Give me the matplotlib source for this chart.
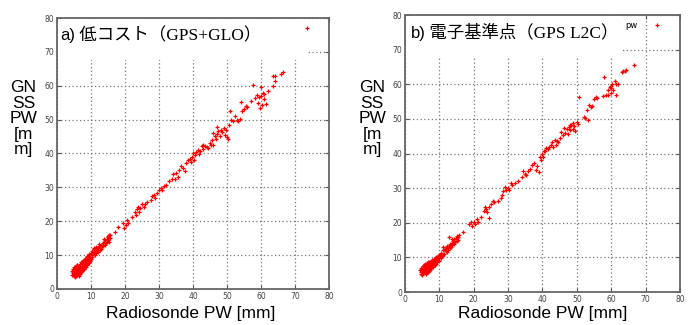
import numpy as np
import matplotlib.pyplot as plt
from matplotlib.patches import Rectangle

# (radiosonde PW, GNSS PW) pairs
low_cost_xy = [
    (4.4, 4.2), (4.5, 5.4), (4.6, 4.7), (4.8, 6.0), (4.9, 3.9), (5.0, 5.0), (5.1, 6.6), (5.2, 4.4),
    (5.3, 5.8), (5.4, 3.6), (5.5, 6.9), (5.6, 4.9), (5.7, 5.6), (5.8, 4.0), (5.9, 6.3), (6.0, 7.2),
    (6.1, 4.6), (6.2, 5.3), (6.3, 6.0), (6.4, 3.9), (6.5, 6.8), (6.6, 5.0), (6.7, 7.5), (6.8, 5.7),
    (6.9, 4.5), (7.0, 6.4), (7.1, 7.9), (7.2, 5.2), (7.3, 6.9), (7.4, 6.0), (7.5, 8.2), (7.6, 5.5),
    (7.7, 7.3), (7.8, 6.6), (7.9, 8.5), (8.0, 6.0), (8.1, 7.8), (8.2, 7.0), (8.3, 8.9), (8.4, 6.6),
    (8.5, 8.2), (8.6, 7.4), (8.7, 9.3), (8.8, 7.0), (8.9, 8.6), (9.0, 7.8), (9.1, 9.6), (9.2, 8.2),
    (9.3, 9.0), (9.4, 7.6), (9.5, 10.2), (9.6, 8.6), (9.7, 9.5), (9.8, 8.2), (9.9, 10.5), (10.0, 9.0),
    (5.0, 4.4), (5.3, 6.2), (5.6, 3.8), (6.0, 5.4), (6.3, 4.8), (6.6, 6.4), (7.0, 5.0), (7.3, 7.6),
    (7.6, 6.2), (8.0, 8.6), (8.3, 7.3), (8.6, 8.6), (9.0, 9.2), (9.3, 8.6), (4.7, 5.0), (5.8, 7.0),
    (7.8, 7.0), (6.5, 6.1), (8.8, 9.8),
    (10.2, 10.1), (10.4, 9.4), (10.6, 11.0), (10.8, 10.2), (11.0, 11.7), (11.1, 9.9), (11.3, 11.0),
    (11.5, 12.4), (11.6, 10.5), (11.8, 11.4), (12.0, 12.2), (12.1, 10.8), (12.3, 12.6), (12.5, 11.5),
    (12.7, 12.2), (12.9, 13.1), (13.0, 11.8), (13.2, 12.7), (13.4, 13.6), (13.6, 12.8), (13.8, 13.9),
    (14.0, 13.1), (14.2, 14.4), (14.4, 13.5), (14.6, 14.9), (14.8, 13.9), (15.0, 15.3), (15.1, 14.5),
    (15.3, 15.8), (15.4, 13.8), (15.5, 15.0), (15.6, 16.0), (10.9, 12.0), (12.4, 13.4), (13.8, 14.7),
    (11.4, 11.7), (14.9, 15.7), (10.3, 11.3),
    (17.0, 16.8), (18.0, 18.2), (19.5, 19.4), (19.6, 18.1), (20.2, 19.0), (20.5, 20.3), (21.0, 19.4),
    (22.0, 21.2), (22.8, 22.8), (23.2, 21.9), (23.5, 23.5), (23.8, 24.2), (24.0, 22.6), (24.5, 23.8),
    (25.0, 25.0), (25.5, 24.3), (26.0, 25.2), (26.5, 25.8), (27.5, 26.2), (28.0, 27.5), (28.4, 27.8),
    (28.8, 26.9), (29.5, 28.2), (30.0, 29.3), (30.5, 29.8), (31.0, 29.2), (31.5, 30.4), (32.0, 30.7),
    (33.0, 31.9), (33.8, 32.6), (34.2, 33.8), (34.6, 32.4), (35.0, 34.3), (35.6, 33.2), (36.0, 35.0),
    (36.5, 36.2), (37.0, 35.6), (37.5, 34.9), (38.0, 37.2), (38.5, 38.0), (39.0, 38.4), (39.4, 37.6),
    (39.8, 39.0), (40.2, 38.2), (40.5, 39.6), (41.0, 40.4), (41.4, 41.0), (41.8, 39.8), (42.2, 40.8),
    (42.6, 42.1), (43.0, 41.4), (43.5, 42.3), (44.0, 42.0), (44.5, 41.5), (45.0, 43.2), (45.5, 44.0),
    (45.8, 46.0), (46.0, 42.4), (46.4, 45.2), (46.8, 44.3), (47.0, 45.8), (47.4, 46.5), (47.8, 45.1),
    (48.2, 47.0), (48.6, 46.2), (49.0, 47.4), (49.3, 45.6), (49.8, 46.8), (50.0, 45.0), (50.2, 44.4),
    (50.5, 48.4), (50.8, 52.5), (51.2, 50.0), (51.8, 49.5), (52.3, 51.0), (52.8, 49.9), (53.3, 49.6),
    (53.8, 50.2), (54.0, 55.2), (54.5, 52.4), (55.0, 53.2), (55.5, 54.0), (56.0, 53.6), (57.0, 55.6),
    (57.6, 60.3), (58.2, 56.4), (58.8, 57.2), (59.0, 55.0), (59.4, 56.6), (59.6, 53.4), (60.0, 57.1),
    (60.2, 54.2), (60.5, 58.0), (61.0, 56.2), (61.4, 54.5), (61.0, 57.6), (60.0, 59.6), (62.0, 58.5),
    (63.4, 62.8), (63.5, 60.0), (64.0, 61.5), (64.2, 63.0), (66.0, 63.6), (66.6, 64.0), (43.0, 42.5),
    (47.2, 47.8), (40.0, 40.0), (45.3, 42.6),
]

geonet_xy = [
    (4.5, 6.3), (4.6, 5.2), (4.7, 7.0), (4.8, 5.8), (4.9, 6.6), (5.0, 4.9), (5.1, 7.4), (5.2, 6.1),
    (5.3, 5.5), (5.4, 7.8), (5.5, 6.7), (5.6, 5.7), (5.7, 7.2), (5.8, 6.3), (5.9, 8.1), (6.0, 5.4),
    (6.1, 6.9), (6.2, 7.7), (6.3, 6.0), (6.4, 8.3), (6.5, 6.6), (6.6, 7.4), (6.7, 5.8), (6.8, 8.0),
    (6.9, 6.8), (7.0, 8.6), (7.1, 7.1), (7.2, 6.3), (7.3, 8.2), (7.4, 7.5), (7.5, 8.9), (7.6, 6.8),
    (7.7, 8.0), (7.8, 7.3), (7.9, 9.2), (8.0, 7.7), (8.1, 8.6), (8.2, 7.2), (8.3, 9.4), (8.4, 8.2),
    (8.5, 9.0), (8.6, 7.8), (8.7, 9.7), (8.8, 8.6), (8.9, 9.3), (9.0, 8.2), (9.1, 10.0), (9.2, 8.9),
    (9.3, 9.6), (9.4, 8.6), (9.5, 10.4), (9.6, 9.3), (9.7, 10.0), (9.8, 9.0), (9.9, 10.7), (10.0, 9.8),
    (5.2, 7.0), (5.6, 6.4), (6.0, 7.5), (6.4, 6.9), (6.8, 7.4), (7.2, 8.3), (7.6, 7.8), (8.0, 8.4),
    (8.4, 9.1), (8.8, 9.2), (5.0, 5.8), (6.2, 5.3), (7.0, 6.0), (5.4, 6.9), (6.6, 8.7), (9.2, 9.8),
    (10.2, 10.8), (10.4, 9.8), (10.6, 11.4), (10.8, 10.4), (11.0, 12.0), (11.2, 13.0), (11.4, 11.1),
    (11.6, 12.4), (11.8, 11.8), (12.0, 12.6), (12.2, 11.5), (12.4, 12.9), (12.6, 12.2), (12.8, 13.4),
    (13.0, 12.6), (13.2, 13.8), (13.4, 13.0), (13.6, 14.2), (13.8, 13.5), (14.0, 14.6), (14.2, 14.0),
    (14.4, 15.2), (14.6, 14.4), (14.8, 15.6), (15.0, 14.8), (15.0, 16.2), (15.2, 15.5), (15.4, 16.0),
    (15.5, 15.0), (15.6, 16.4), (12.8, 15.8), (13.8, 15.2), (11.0, 10.6), (12.3, 13.3),
    (17.0, 17.4), (18.7, 19.5), (19.2, 20.1), (19.6, 19.0), (20.0, 20.3), (20.4, 19.6), (21.0, 21.0),
    (21.3, 20.1), (22.0, 21.8), (23.0, 23.3), (23.3, 24.6), (23.7, 24.1), (24.0, 23.0), (24.3, 24.5),
    (24.5, 21.3), (25.0, 25.5), (25.5, 26.3), (26.0, 26.0), (27.0, 26.2), (27.8, 27.2), (28.3, 28.0),
    (28.6, 29.2), (29.0, 30.3), (29.4, 29.5), (30.0, 30.1), (30.4, 29.6), (30.8, 31.4), (31.2, 30.8),
    (32.0, 31.5), (33.0, 32.0), (34.0, 33.2), (34.3, 35.0), (34.8, 34.2), (35.3, 33.7), (35.8, 35.0),
    (36.4, 35.6), (37.0, 36.8), (37.5, 37.4), (38.0, 35.2), (38.3, 36.3), (39.0, 34.6), (39.2, 39.0),
    (39.6, 38.2), (40.0, 39.9), (40.2, 39.0), (40.6, 40.8), (41.0, 41.5), (41.5, 41.2), (42.0, 41.8),
    (42.4, 42.6), (42.8, 43.2), (43.2, 42.0), (43.6, 44.0), (44.0, 42.6), (44.5, 43.4), (45.0, 44.6),
    (45.5, 46.2), (46.0, 45.4), (46.3, 47.4), (46.6, 46.0), (47.0, 47.0), (47.3, 45.6), (47.7, 47.8),
    (48.0, 46.8), (48.4, 48.2), (48.8, 47.2), (49.2, 48.0), (49.5, 46.4), (50.0, 49.0), (50.3, 48.6),
    (50.6, 56.2), (52.0, 50.6), (52.5, 50.4), (53.3, 49.8), (53.0, 52.6), (53.6, 54.0), (54.0, 53.3),
    (54.4, 53.8), (55.0, 55.6), (55.6, 56.2), (56.0, 56.0), (57.5, 56.6), (57.8, 62.0), (58.5, 57.0),
    (59.0, 58.4), (59.2, 56.8), (59.5, 59.2), (59.8, 57.6), (60.0, 58.8), (60.2, 60.0), (60.6, 58.2),
    (61.0, 60.8), (61.3, 56.8), (61.5, 60.2), (62.0, 60.2), (63.0, 63.5), (63.3, 63.8), (64.0, 63.8),
    (64.2, 64.0), (66.5, 65.6), (40.3, 40.8), (44.2, 43.5), (48.0, 48.2), (49.0, 48.8), (60.0, 59.5),
]

panel_titles = ['a)', 'b)']
panel_subtitles = ['低コスト（GPS+GLO）', '電子基準点（GPS L2C）']
legend_labels = ['', 'pw']
ticks = [0, 10, 20, 30, 40, 50, 60, 70, 80]

fig = plt.figure(figsize=(6.93, 3.25), dpi=100)
ax_a = fig.add_axes([0.0823, 0.1108, 0.3924, 0.8338])
ax_b = fig.add_axes([0.5844, 0.1015, 0.3968, 0.8523])

# white areas that hide the grid behind the titles
title_boxes = [(73.5, 67.7), (63.0, 67.5)]
ylabel_x = [0.034, 0.537]
xlabel_x = [0.2756, 0.783]

for i, (ax, pts) in enumerate(zip([ax_a, ax_b], [low_cost_xy, geonet_xy])):
    pts = np.array(pts)
    ax.set_xlim(0, 80)
    ax.set_ylim(0, 80)
    ax.set_xticks(ticks)
    ax.set_yticks(ticks)
    ax.tick_params(direction='in', length=3, width=0.8, labelsize=5.5,
                   labelcolor='#444444', color='#555555', top=True, right=True, pad=2)
    for s in ax.spines.values():
        s.set_color('#666666')
        s.set_linewidth(1.3)
    ax.grid(True, linestyle=(0, (1, 2)), color='#777777', linewidth=0.9, zorder=0)
    ax.set_axisbelow(True)

    bw, bh = title_boxes[i]
    ax.add_patch(Rectangle((0.3, bh), bw - 0.3, 79.7 - bh, facecolor='white',
                           edgecolor='none', zorder=1.5))

    line, = ax.plot(pts[:, 0], pts[:, 1], '+', color='red', markersize=2.2,
                    markeredgewidth=0.9, zorder=3)

    ax.legend([line], [legend_labels[i]], loc='upper right', bbox_to_anchor=(0.93, 0.978),
              frameon=False, markerfirst=False, fontsize=6, handlelength=0.8,
              handletextpad=2.0, borderaxespad=0.0, borderpad=0.0, numpoints=1)

    t = ax.text(0.012 if i == 0 else 0.02, 0.935, panel_titles[i], transform=ax.transAxes,
                fontsize=12, family='Liberation Sans', va='center', ha='left', zorder=4)
    ax.annotate(' ' + panel_subtitles[i], xy=(1, 0.5), xycoords=t, va='center', ha='left',
                fontsize=12.5, family=['Liberation Serif', 'Noto Sans CJK JP'], zorder=4)

    fig.text(ylabel_x[i], 0.635, 'GN\nSS\nPW\n[m\nm]', ha='center', va='center',
             fontsize=12.5, family='Liberation Sans', linespacing=1.05)
    fig.text(xlabel_x[i], 0.034, 'Radiosonde PW [mm]', ha='center', va='center',
             fontsize=12.5, family='Liberation Sans')

fig.savefig('out.png', dpi=100)
